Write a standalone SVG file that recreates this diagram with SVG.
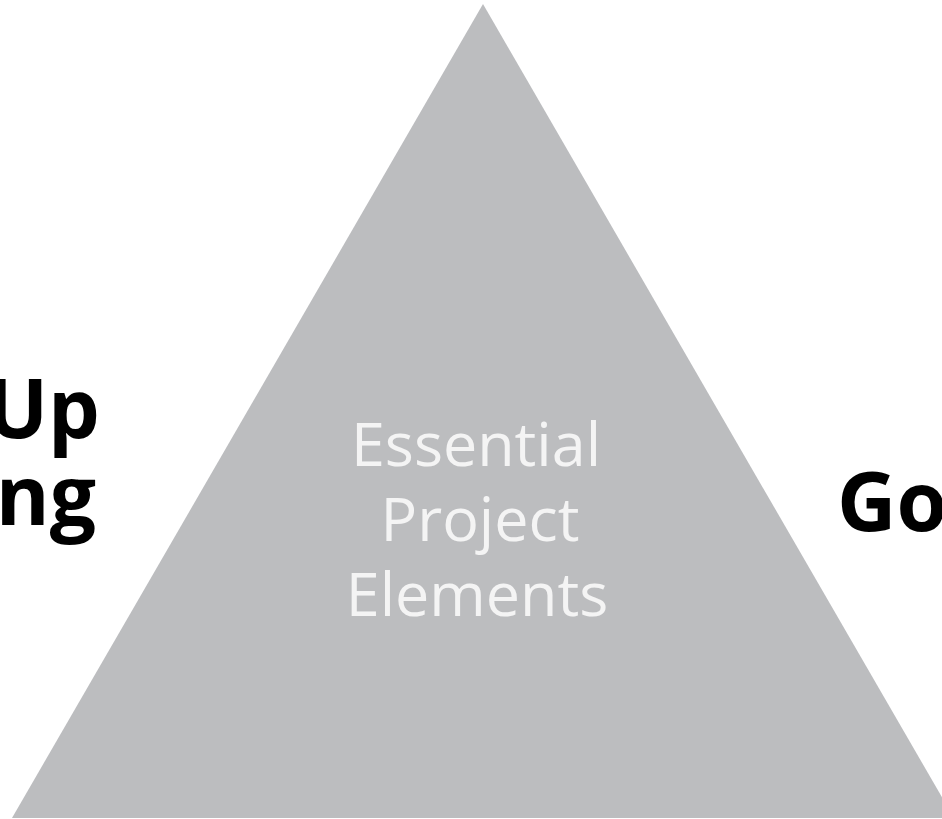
<svg xmlns="http://www.w3.org/2000/svg" width="942" height="819" viewBox="0 0 942 819">
  <style>
    .side { font-family: "Open Sans", "Liberation Sans", sans-serif; font-weight: 700; font-size: 82px; fill: #000000; }
    .core { font-family: "Open Sans", "Liberation Sans", sans-serif; font-weight: 400; font-size: 61px; fill: #f4f4f4; text-anchor: middle; }
  </style>
  <rect width="942" height="819" fill="#ffffff"/>
  <g id="core">
    <polygon points="483,4 12,818 954,818" fill="#bcbdbf"/>
    <text class="core" x="476" y="466">Essential</text>
    <text class="core" x="480" y="541">Project</text>
    <text class="core" x="477" y="616">Elements</text>
  </g>
  <g id="left-label">
    <text class="side" x="100" y="438" text-anchor="end">Up</text>
    <text class="side" x="96" y="525" text-anchor="end">ng</text>
  </g>
  <g id="right-label">
    <text class="side" x="837" y="531">Gov</text>
  </g>
</svg>
